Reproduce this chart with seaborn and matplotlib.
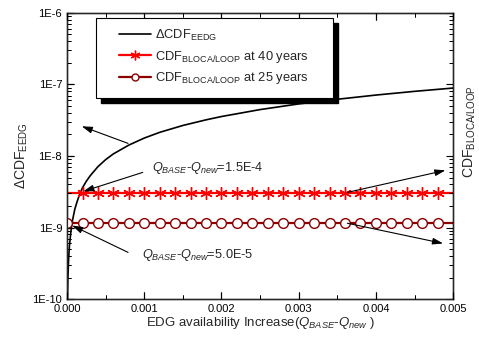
import numpy as np
import pandas as pd
import matplotlib
matplotlib.use("Agg")
import matplotlib.pyplot as plt
from matplotlib.patches import Rectangle
from matplotlib.lines import Line2D
from matplotlib.ticker import LogLocator, NullFormatter, FixedLocator
import seaborn as sns

# ---- data ----
q_delta = [0.0, 0.000005, 0.00001, 0.00002, 0.00003, 0.00005, 0.00007, 0.0001, 0.00013,
           0.00016, 0.0002, 0.00025, 0.0003, 0.0004, 0.0005, 0.0006, 0.0008, 0.001, 0.0012,
           0.0015, 0.0018, 0.002, 0.0025, 0.003, 0.0035, 0.004, 0.0045, 0.005]
dcdf_eedg = [1.0e-10, 1.0e-10, 1.9e-10, 3.6e-10, 5.4e-10, 8.9e-10, 1.25e-9, 1.8e-9, 2.3e-9,
             2.85e-9, 3.6e-9, 4.45e-9, 5.3e-9, 7.1e-9, 8.9e-9, 1.07e-8, 1.42e-8, 1.78e-8,
             2.14e-8, 2.67e-8, 3.2e-8, 3.56e-8, 4.45e-8, 5.34e-8, 6.2e-8, 7.1e-8, 8.0e-8, 8.9e-8]

q_40 = [0.0002, 0.0004, 0.0006, 0.0008, 0.001, 0.0012, 0.0014, 0.0016, 0.0018, 0.002, 0.0022,
        0.0024, 0.0026, 0.0028, 0.003, 0.0032, 0.0034, 0.0036, 0.0038, 0.004, 0.0042, 0.0044,
        0.0046, 0.0048]
cdf_40 = [3.05e-9] * len(q_40)
q_25 = [0.0, 0.0002, 0.0004, 0.0006, 0.0008, 0.001, 0.0012, 0.0014, 0.0016, 0.0018, 0.002,
        0.0022, 0.0024, 0.0026, 0.0028, 0.003, 0.0032, 0.0034, 0.0036, 0.0038, 0.004, 0.0042,
        0.0044, 0.0046, 0.0048]
cdf_25 = [1.16e-9] * len(q_25)

x_ticks = [0.0, 0.001, 0.002, 0.003, 0.004, 0.005]
x_minor = [0.0005, 0.0015, 0.0025, 0.0035, 0.0045]
x_ticklabels = ["0.000", "0.001", "0.002", "0.003", "0.004", "0.005"]
y_ticks = [1e-10, 1e-9, 1e-8, 1e-7, 1e-6]
y_ticklabels = ["1E-10", "1E-9", "1E-8", "1E-7", "1E-6"]

label_eedg = "ΔCDF$_{\\mathrm{EEDG}}$"
label_40 = "CDF$_{\\mathrm{BLOCA/LOOP}}$ at 40 years"
label_25 = "CDF$_{\\mathrm{BLOCA/LOOP}}$ at 25 years"

TC = "black"

# ---- style ----
sns.set_style("ticks")
plt.rcParams["font.family"] = ["Liberation Sans", "DejaVu Sans"]
plt.rcParams["mathtext.fontset"] = "custom"
plt.rcParams["mathtext.rm"] = "Liberation Sans"
plt.rcParams["mathtext.it"] = "Liberation Sans:italic"
plt.rcParams["mathtext.bf"] = "Liberation Sans:bold"
plt.rcParams["axes.axisbelow"] = False

fig = plt.figure(figsize=(4.79, 3.38), dpi=100)
ax = fig.add_axes([0.140, 0.115, 0.806, 0.847])

df_e = pd.DataFrame({"x": q_delta, "y": dcdf_eedg})
df_40 = pd.DataFrame({"x": q_40, "y": cdf_40})
df_25 = pd.DataFrame({"x": q_25, "y": cdf_25})

red = "#ff0000"
dred = "#8b0000"

sns.lineplot(data=df_e, x="x", y="y", ax=ax, color="black", lw=1.2, legend=False)
ax.axhline(cdf_40[0], color=red, lw=1.6, zorder=2)
sns.lineplot(data=df_40, x="x", y="y", ax=ax, color=red, lw=0, marker=(6, 2, 0),
             markersize=9, markeredgecolor=red, markeredgewidth=1.0, zorder=3, legend=False)
ax.axhline(cdf_25[0], color=dred, lw=1.6, zorder=2)
sns.lineplot(data=df_25, x="x", y="y", ax=ax, color=dred, lw=0, marker="o",
             markersize=7, markerfacecolor="white", markeredgecolor=dred,
             markeredgewidth=1.0, zorder=3, legend=False)

ax.set_yscale("log")
ax.set_xlim(0, 0.005)
ax.set_ylim(1e-10, 1e-6)
ax.xaxis.set_major_locator(FixedLocator(x_ticks))
ax.set_xticklabels(x_ticklabels, fontsize=8)
ax.xaxis.set_minor_locator(FixedLocator(x_minor))
ax.yaxis.set_major_locator(FixedLocator(y_ticks))
ax.set_yticklabels(y_ticklabels, fontsize=8)
ax.yaxis.set_minor_locator(LogLocator(base=10, subs=np.arange(2, 10), numticks=20))
ax.yaxis.set_minor_formatter(NullFormatter())
for s in ax.spines.values():
    s.set_color("black")
    s.set_linewidth(1.0)

ax.set_xlabel("EDG availability Increase($Q_{BASE}$-$Q_{new}$ )", fontsize=9.5, labelpad=1)
ax.set_ylabel(label_eedg, fontsize=10, labelpad=2)

# twin for y ticks (both sides) and right-hand label
ax2 = ax.twinx()
ax2.set_yscale("log")
ax2.set_ylim(1e-10, 1e-6)
ax2.yaxis.set_major_locator(FixedLocator(y_ticks))
ax2.yaxis.set_minor_locator(LogLocator(base=10, subs=np.arange(2, 10), numticks=20))
ax2.yaxis.set_major_formatter(NullFormatter())
ax2.yaxis.set_minor_formatter(NullFormatter())
ax2.set_ylabel("CDF$_{\\mathrm{BLOCA/LOOP}}$", fontsize=10)
ax2.yaxis.set_label_coords(1.021, 0.585)

# twin for x ticks (top and bottom)
ax3 = ax.twiny()
ax3.set_xlim(0, 0.005)
ax3.xaxis.set_major_locator(FixedLocator(x_ticks))
ax3.xaxis.set_minor_locator(FixedLocator(x_minor))
ax3.xaxis.set_major_formatter(NullFormatter())
ax3.xaxis.set_minor_formatter(NullFormatter())

ax.tick_params(which="both", direction="in", top=True, bottom=True, left=True, right=False,
               color=TC, labelcolor="black")
ax.tick_params(which="major", length=5, width=0.8)
ax.tick_params(which="minor", length=3, width=0.7)
ax2.tick_params(which="both", direction="in", right=True, left=True, color=TC,
                labelleft=False, labelright=False)
ax2.tick_params(which="major", length=5, width=0.8)
ax2.tick_params(which="minor", length=3, width=0.7)
ax3.tick_params(which="both", direction="in", top=True, bottom=True, color=TC,
                labeltop=False, labelbottom=False)
ax3.tick_params(which="major", length=5, width=0.8)
ax3.tick_params(which="minor", length=3, width=0.7)

# legend box with solid shadow
bx0, bx1, by0, by1 = 0.0751, 0.689, 0.702, 0.981
sdx, sdy = 5 / 386, 5 / 286.3
ax3.add_patch(Rectangle((bx0 + sdx, by0 - sdy), bx1 - bx0, by1 - by0, transform=ax.transAxes,
                        facecolor="black", edgecolor="black", zorder=8, clip_on=False))
ax3.add_patch(Rectangle((bx0, by0), bx1 - bx0, by1 - by0, transform=ax.transAxes,
                        facecolor="white", edgecolor="black", lw=0.8, zorder=9, clip_on=False))
handles = [
    Line2D([], [], color="black", lw=1.2),
    Line2D([], [], color=red, lw=1.6, marker=(6, 2, 0), markersize=7,
           markeredgecolor=red),
    Line2D([], [], color=dred, lw=1.6, marker="o", markersize=5,
           markerfacecolor="white", markeredgecolor=dred),
]
leg = ax3.legend(handles, [label_eedg, label_40, label_25], loc="upper left",
                 bbox_to_anchor=(0.135, 0.948), bbox_transform=ax.transAxes,
                 borderaxespad=0, borderpad=0,
                 fontsize=9.3, frameon=False, handlelength=2.45, handletextpad=0.3,
                 labelspacing=0.45, numpoints=1)
leg.set_zorder(10)

# annotations
ap = dict(arrowstyle="-|>,head_length=0.7,head_width=0.22", color="black", lw=0.8,
          mutation_scale=9, shrinkA=0, shrinkB=0)
ax.annotate("", xy=(0.00019, 2.6e-8), xytext=(0.00079, 1.5e-8), arrowprops=ap)
ax.annotate("", xy=(0.00021, 3.2e-9), xytext=(0.00098, 5.9e-9), arrowprops=ap)
ax.annotate("", xy=(0.000065, 1.07e-9), xytext=(0.00079, 4.5e-10), arrowprops=ap)
ax.annotate("", xy=(0.0049, 6.3e-9), xytext=(0.00363, 3.1e-9), arrowprops=ap)
ax.annotate("", xy=(0.00487, 6.0e-10), xytext=(0.00363, 1.15e-9), arrowprops=ap)
ax.text(0.0011, 6.8e-9, "$Q_{BASE}$-$Q_{new}$=1.5E-4", fontsize=9.2, va="center", ha="left")
ax.text(0.00097, 4.1e-10, "$Q_{BASE}$-$Q_{new}$=5.0E-5", fontsize=9.2, va="center", ha="left")

fig.savefig("out.png", dpi=100)
